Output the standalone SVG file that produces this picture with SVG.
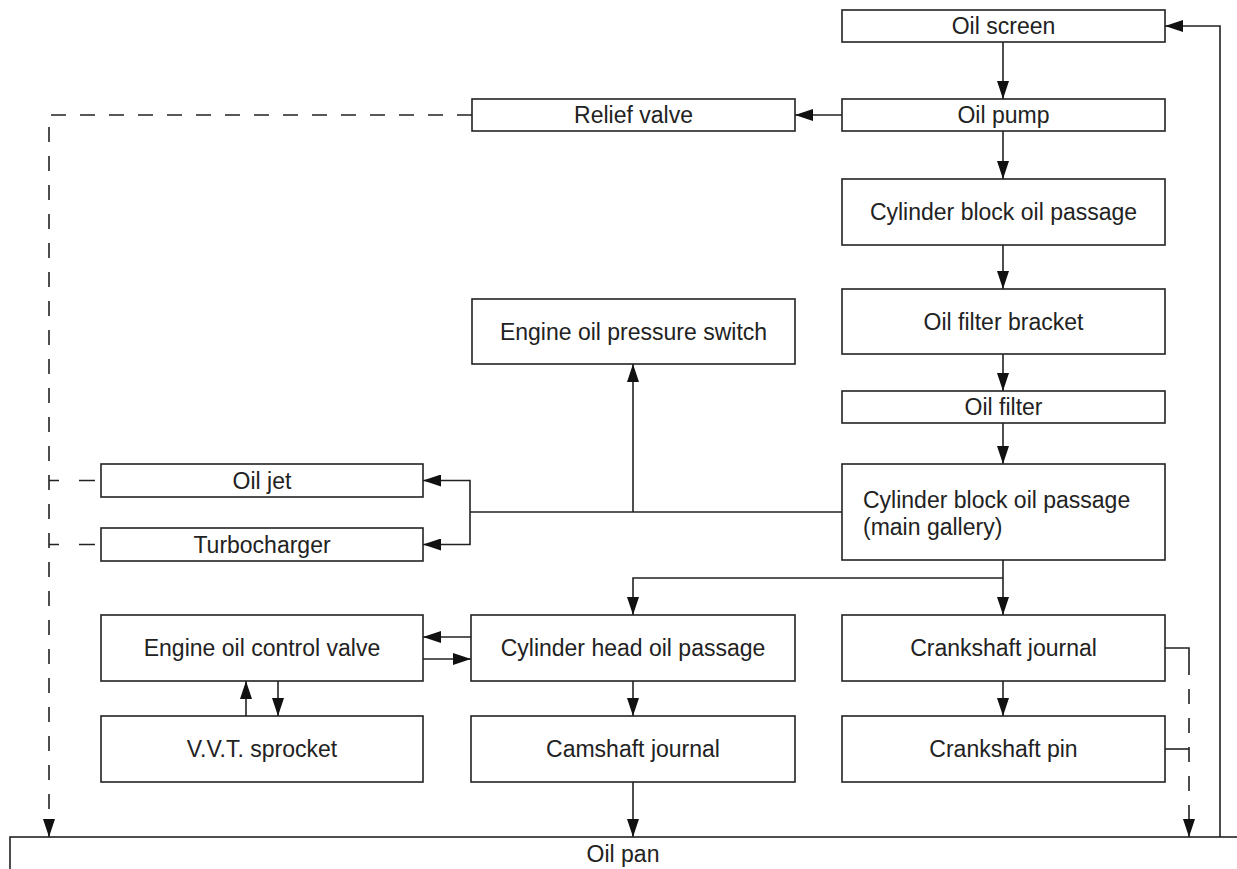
<svg xmlns="http://www.w3.org/2000/svg" width="1237" height="869" viewBox="0 0 1237 869">
<style>
.box{fill:#fff;stroke:#222;stroke-width:1.6}
.t{font-family:"Liberation Sans",Arial,sans-serif;font-size:23px;fill:#222;text-anchor:middle}
.tl{font-family:"Liberation Sans",Arial,sans-serif;font-size:23px;fill:#222}
.c{fill:none;stroke:#222;stroke-width:1.6}
.d{fill:none;stroke:#222;stroke-width:1.6;stroke-dasharray:15 14}
</style>
<defs>
<marker id="ah" markerUnits="userSpaceOnUse" markerWidth="18" markerHeight="12" refX="18" refY="6" orient="auto">
<path d="M0,0 L18,6 L0,12 z" fill="#111"/>
</marker>
</defs>
<rect width="1237" height="869" fill="#fff"/>
<g id="connectors">
<path class="c" d="M1003,42 V99" marker-end="url(#ah)"/>
<path class="c" d="M842,115 H795" marker-end="url(#ah)"/>
<path class="c" d="M1003,131 V179" marker-end="url(#ah)"/>
<path class="c" d="M1003,245 V289" marker-end="url(#ah)"/>
<path class="c" d="M1003,354 V391" marker-end="url(#ah)"/>
<path class="c" d="M1003,423 V464" marker-end="url(#ah)"/>
<path class="c" d="M842,512 H470"/>
<path class="c" d="M633,512 V364" marker-end="url(#ah)"/>
<path class="c" d="M470,512 V480.5 H423" marker-end="url(#ah)"/>
<path class="c" d="M470,512 V544.5 H423" marker-end="url(#ah)"/>
<path class="c" d="M1003,560 V615" marker-end="url(#ah)"/>
<path class="c" d="M1003,578 H633 V615" marker-end="url(#ah)"/>
<path class="c" d="M471,637 H423" marker-end="url(#ah)"/>
<path class="c" d="M423,659 H471" marker-end="url(#ah)"/>
<path class="c" d="M246,716 V681" marker-end="url(#ah)"/>
<path class="c" d="M278,681 V716" marker-end="url(#ah)"/>
<path class="c" d="M633,681 V716" marker-end="url(#ah)"/>
<path class="c" d="M633,782 V837" marker-end="url(#ah)"/>
<path class="c" d="M1003,681 V716" marker-end="url(#ah)"/>
<path class="c" d="M1165,648 H1189 V660"/>
<path class="d" d="M1189,660 V837" marker-end="url(#ah)"/>
<path class="c" d="M1165,749 H1189"/>
<path class="c" d="M1220,837 V26 H1165" marker-end="url(#ah)"/>
<path class="d" d="M472,115 H49 V837" marker-end="url(#ah)"/>
<path class="c" d="M95,480.5 H79 M59,480.5 H49"/>
<path class="c" d="M95,544.5 H79 M59,544.5 H49"/>
</g>
<g id="oil-screen"><rect class="box" x="842" y="10" width="323" height="32"/><text class="t" x="1003.5" y="34">Oil screen</text></g>
<g id="oil-pump"><rect class="box" x="842" y="99" width="323" height="32"/><text class="t" x="1003.5" y="123">Oil pump</text></g>
<g id="relief-valve"><rect class="box" x="472" y="99" width="323" height="32"/><text class="t" x="633.5" y="123">Relief valve</text></g>
<g id="cyl-block"><rect class="box" x="842" y="179" width="323" height="66"/><text class="t" x="1003.5" y="220">Cylinder block oil passage</text></g>
<g id="oil-filter-bracket"><rect class="box" x="842" y="289" width="323" height="65"/><text class="t" x="1003.5" y="329.5">Oil filter bracket</text></g>
<g id="oil-filter"><rect class="box" x="842" y="391" width="323" height="32"/><text class="t" x="1003.5" y="415">Oil filter</text></g>
<g id="pressure-switch"><rect class="box" x="472" y="299" width="323" height="65"/><text class="t" x="633.5" y="339.5">Engine oil pressure switch</text></g>
<g id="main-gallery"><rect class="box" x="842" y="464" width="323" height="96"/><text class="tl" x="863" y="508">Cylinder block oil passage</text><text class="tl" x="863" y="535">(main gallery)</text></g>
<g id="oil-jet"><rect class="box" x="101" y="464" width="322" height="33"/><text class="t" x="262" y="488.5">Oil jet</text></g>
<g id="turbocharger"><rect class="box" x="101" y="528" width="322" height="33"/><text class="t" x="262" y="552.5">Turbocharger</text></g>
<g id="eocv"><rect class="box" x="101" y="615" width="322" height="66"/><text class="t" x="262" y="656">Engine oil control valve</text></g>
<g id="vvt"><rect class="box" x="101" y="716" width="322" height="66"/><text class="t" x="262" y="757">V.V.T. sprocket</text></g>
<g id="cyl-head"><rect class="box" x="471" y="615" width="324" height="66"/><text class="t" x="633" y="656">Cylinder head oil passage</text></g>
<g id="camshaft-journal"><rect class="box" x="471" y="716" width="324" height="66"/><text class="t" x="633" y="757">Camshaft journal</text></g>
<g id="crankshaft-journal"><rect class="box" x="842" y="615" width="323" height="66"/><text class="t" x="1003.5" y="656">Crankshaft journal</text></g>
<g id="crankshaft-pin"><rect class="box" x="842" y="716" width="323" height="66"/><text class="t" x="1003.5" y="757">Crankshaft pin</text></g>
<g id="oil-pan"><rect class="box" x="10" y="837" width="1240" height="50"/><text class="t" x="623" y="862">Oil pan</text></g>
</svg>
